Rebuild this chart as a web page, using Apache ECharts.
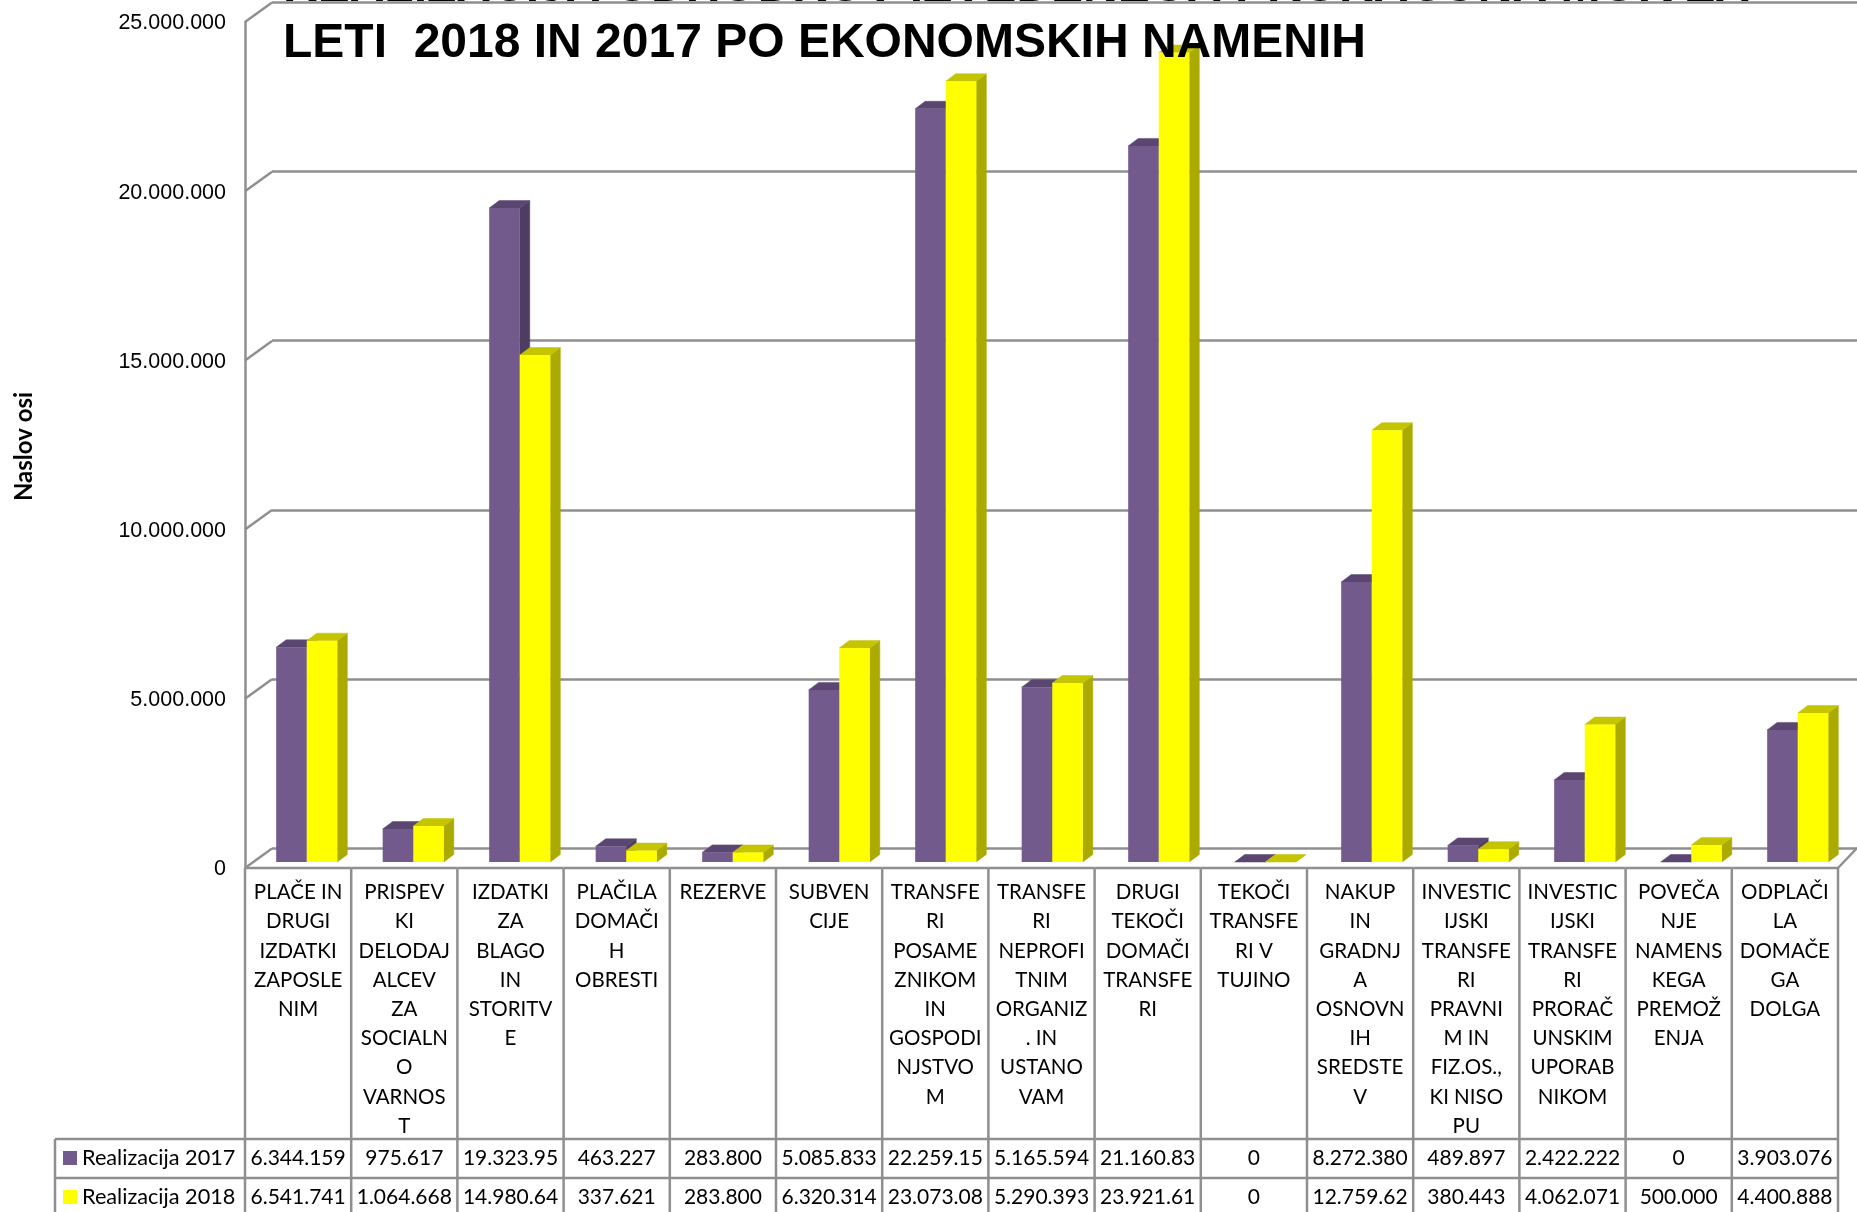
<!DOCTYPE html>
<html><head><meta charset="utf-8">
<style>html,body{margin:0;padding:0;background:#fff;overflow:hidden}#c{width:1857px;height:1212px}</style>
<script src="https://cdn.jsdelivr.net/npm/echarts@6/dist/echarts.min.js"></script>
</head><body><div id="c"></div>
<script>
const categories = [
 'PLAČE IN\nDRUGI\nIZDATKI\nZAPOSLE\nNIM',
 'PRISPEV\nKI\nDELODAJ\nALCEV\nZA\nSOCIALN\nO\nVARNOS\nT',
 'IZDATKI\nZA\nBLAGO\nIN\nSTORITV\nE',
 'PLAČILA\nDOMAČI\nH\nOBRESTI',
 'REZERVE',
 'SUBVEN\nCIJE',
 'TRANSFE\nRI\nPOSAME\nZNIKOM\nIN\nGOSPODI\nNJSTVO\nM',
 'TRANSFE\nRI\nNEPROFI\nTNIM\nORGANIZ\n. IN\nUSTANO\nVAM',
 'DRUGI\nTEKOČI\nDOMAČI\nTRANSFE\nRI',
 'TEKOČI\nTRANSFE\nRI V\nTUJINO',
 'NAKUP\nIN\nGRADNJ\nA\nOSNOVN\nIH\nSREDSTE\nV',
 'INVESTIC\nIJSKI\nTRANSFE\nRI\nPRAVNI\nM IN\nFIZ.OS.,\nKI NISO\nPU',
 'INVESTIC\nIJSKI\nTRANSFE\nRI\nPRORAČ\nUNSKIM\nUPORAB\nNIKOM',
 'POVEČA\nNJE\nNAMENS\nKEGA\nPREMOŽ\nENJA',
 'ODPLAČI\nLA\nDOMAČE\nGA\nDOLGA'
];
const values2017 = [6344159,975617,19323950,463227,283800,5085833,22259150,5165594,21160830,0,8272380,489897,2422222,0,3903076];
const values2018 = [6541741,1064668,14980640,337621,283800,6320314,23073080,5290393,23921610,0,12759620,380443,4062071,500000,4400888];
const labels2017 = ['6.344.159','975.617','19.323.95','463.227','283.800','5.085.833','22.259.15','5.165.594','21.160.83','0','8.272.380','489.897','2.422.222','0','3.903.076'];
const labels2018 = ['6.541.741','1.064.668','14.980.64','337.621','283.800','6.320.314','23.073.08','5.290.393','23.921.61','0','12.759.62','380.443','4.062.071','500.000','4.400.888'];
const seriesNames = ['Realizacija 2017','Realizacija 2018'];
const yMax = 25000000, yStep = 5000000;
const titleText = 'REALIZACIJA ODHODKOV IZVEDENEGA PRORAČUNA MOK ZA\nLETI  2018 IN 2017 PO EKONOMSKIH NAMENIH';
const axisTitle = 'Naslov osi';

const GREY = '#8f8f8f';
const LINE = 2.5;
const fmt = v => String(v).replace(/\B(?=(\d{3})+(?!\d))/g, '.');
const cellFont = '21px Lato, sans-serif';

function barRender(side, front, top, sideCol) {
  return function (params, api) {
    const p = api.coord([api.value(0), api.value(1)]);
    const base = api.coord([api.value(0), 0]);
    const w = api.size([1, 0])[0] * 0.287;
    const x0 = side < 0 ? p[0] - w : p[0];
    const x1 = x0 + w;
    const dx = 10, dy = 7.5;
    const poly = (pts, c) => ({type:'polygon', shape:{points:pts}, style:{fill:c, stroke:c, lineWidth:0.5}});
    return {type:'group', children:[
      poly([[x1,p[1]],[x1+dx,p[1]-dy],[x1+dx,base[1]-dy],[x1,base[1]]], sideCol),
      poly([[x0,p[1]],[x0+dx,p[1]-dy],[x1+dx,p[1]-dy],[x1,p[1]]], top),
      {type:'rect', shape:{x:x0,y:p[1],width:w,height:base[1]-p[1]}, style:{fill:front}}
    ]};
  };
}

const tableRender = function (params, api) {
  const i = api.value(0);
  const c = api.coord([i, 0]);
  const band = api.size([1, 0])[0];
  const xl = c[0] - band / 2, xr = c[0] + band / 2;
  const y0 = c[1];
  const line = (a, b, d, e) => ({type:'line', shape:{x1:a,y1:b,x2:d,y2:e}, style:{stroke:GREY, lineWidth:LINE}});
  const cell = (t, y) => ({type:'text', style:{text:t, x:c[0], y:y, align:'center', verticalAlign:'middle', font:cellFont, fill:'#000'}});
  const kids = [
    line(xl, y0, xr, y0),
    line(xr, y0, xr, 1212),
    line(xl, 1139, xr, 1139),
    line(xl, 1178, xr, 1178),
    cell(labels2017[i], 1158),
    cell(labels2018[i], 1197)
  ];
  if (i === 0) {
    kids.push(line(xl, y0, xl, 1212), line(55, 1139, xl, 1139), line(55, 1178, xl, 1178), line(55, 1139, 55, 1212));
  }
  if (i === categories.length - 1) kids.push(line(xr, y0, 1857, 848));
  return {type:'group', children:kids};
};

const wallRender = function (params, api) {
  const c = api.coord([0, api.value(0)]);
  const b = api.size([1, 0])[0];
  const x = c[0] - b / 2;
  return {type:'line', shape:{x1:x, y1:c[1], x2:x + 27, y2:c[1] - 19.5}, style:{stroke:GREY, lineWidth:LINE}};
};

const tickValues = [];
for (let v = 0; v <= yMax; v += yStep) tickValues.push(v);

const option = {
  animation:false,
  backgroundColor:'#fff',
  title:{text:titleText, left:283, top:-39.75, padding:0, z:20,
    textStyle:{fontFamily:'"Liberation Sans", Arial, sans-serif', fontWeight:'bold', fontSize:48, lineHeight:56, color:'#000'}},
  legend:{orient:'vertical', left:63, top:1146, padding:0, itemWidth:14, itemHeight:14, itemGap:15, icon:'rect',
    selectedMode:false, data:seriesNames,
    textStyle:{fontFamily:'Lato, sans-serif', fontSize:21.7, color:'#000', lineHeight:24}},
  grid:[
    {left:245, width:1593, top:22, height:846},   // front plane, category labels, data table
    {left:272, width:1585, top:2.5, height:845.5},   // back wall
    {left:253.5, width:1597.5, top:16, height:846}, // bars
    {left:245, width:1593, top:23.5, height:846}   // value labels
  ],
  xAxis:[
    {gridIndex:0, type:'category', data:categories, axisTick:{show:false}, axisLine:{show:false}, splitLine:{show:false},
     axisLabel:{interval:0, margin:10, color:'#000', fontFamily:'Lato, sans-serif', fontSize:20.5, lineHeight:29.2, verticalAlign:'top', align:'center'}},
    {gridIndex:1, type:'category', data:categories, show:false},
    {gridIndex:2, type:'category', data:categories, show:false},
    {gridIndex:3, type:'category', data:categories, show:false}
  ],
  yAxis:[
    {gridIndex:0, type:'value', min:0, max:yMax, interval:yStep, splitLine:{show:false}, axisTick:{show:false}, axisLabel:{show:false},
     axisLine:{show:true, onZero:false, lineStyle:{color:GREY, width:LINE}}},
    {gridIndex:1, type:'value', min:0, max:yMax, interval:yStep, axisLine:{show:false}, axisTick:{show:false}, axisLabel:{show:false},
     splitLine:{show:true, lineStyle:{color:GREY, width:LINE}}},
    {gridIndex:2, type:'value', min:0, max:yMax, interval:yStep, show:false, splitLine:{show:false}},
    {gridIndex:3, type:'value', min:0, max:yMax, interval:yStep, splitLine:{show:false}, axisTick:{show:false}, axisLine:{show:false},
     name:axisTitle, nameLocation:'middle', nameGap:209, nameRotate:90,
     nameTextStyle:{fontFamily:'Lato, sans-serif', fontWeight:'bold', fontSize:24, color:'#000'},
     axisLabel:{margin:19, formatter:fmt, color:'#000', fontFamily:'"Liberation Sans", Arial, sans-serif', fontSize:21.5}}
  ],
  series:[
    {type:'custom', name:'wall', xAxisIndex:0, yAxisIndex:0, z:1, clip:false, silent:true, data:tickValues.map(v=>[v]), encode:{y:0}, renderItem:wallRender},
    {type:'custom', name:'table', xAxisIndex:0, yAxisIndex:0, z:1, clip:false, silent:true, data:categories.map((c,i)=>[i]), encode:{x:0}, renderItem:tableRender},
    {type:'custom', name:seriesNames[0], xAxisIndex:2, yAxisIndex:2, z:3, clip:false, itemStyle:{color:'#725a8d'},
     data:values2017.map((v,i)=>[i,v]), encode:{x:0,y:1}, renderItem:barRender(-1,'#725a8d','#5b4672','#4e3c62')},
    {type:'custom', name:seriesNames[1], xAxisIndex:2, yAxisIndex:2, z:4, clip:false, itemStyle:{color:'#ffff00'},
     data:values2018.map((v,i)=>[i,v]), encode:{x:0,y:1}, renderItem:barRender(1,'#ffff00','#c4c400','#aaaa00')}
  ]
};
const chart = echarts.init(document.getElementById('c'), null, {renderer:'canvas'});
chart.setOption(option);
</script></body></html>
